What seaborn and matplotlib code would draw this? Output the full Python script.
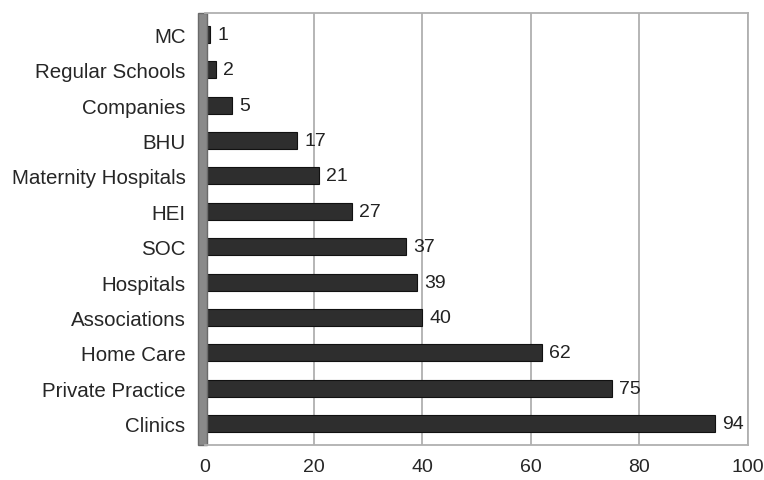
import matplotlib.pyplot as plt
import matplotlib.patches as mpatches
import seaborn as sns
import pandas as pd

categories = ["MC", "Regular Schools", "Companies", "BHU", "Maternity Hospitals", "HEI",
              "SOC", "Hospitals", "Associations", "Home Care", "Private Practice", "Clinics"]
values = [1, 2, 5, 17, 21, 27, 37, 39, 40, 62, 75, 94]
xticks = [0, 20, 40, 60, 80, 100]

df = pd.DataFrame({"place": categories, "count": values})

sns.set_style("white")
plt.rcParams["font.family"] = ["Liberation Sans", "DejaVu Sans"]

fig = plt.figure(figsize=(7.64, 4.81), dpi=100)
ax = fig.add_axes([205 / 764, 1 - 446 / 481, (748 - 205) / 764, (446 - 14) / 481])

sns.barplot(data=df, x="count", y="place", ax=ax, color="#2e2e2e", width=0.48,
            edgecolor="#111111", linewidth=0.8, saturation=1, orient="h")

ax.set_xlim(0, 100)
ax.set_ylim(11.6, -0.6)
ax.set_xticks(xticks)
ax.set_xticklabels([str(t) for t in xticks], fontsize=14)
ax.tick_params(axis="y", labelsize=14.8, length=0, pad=14)
ax.tick_params(axis="x", length=0, pad=9)
ax.set_xlabel("")
ax.set_ylabel("")

# gridlines like the back wall
for t in xticks[1:]:
    ax.axvline(t, color="#b0b0b0", linewidth=1.3, zorder=0)
for side in ["top", "right", "bottom"]:
    ax.spines[side].set_color("#b0b0b0")
    ax.spines[side].set_linewidth(1.3)
ax.spines["left"].set_visible(False)

# grey side wall on the left
wall = mpatches.Rectangle((-0.012, 0), 0.016, 1.0, transform=ax.transAxes,
                          facecolor="#8a8a8a", edgecolor="#6a6a6a", clip_on=False, zorder=1)
ax.add_patch(wall)

# value labels
for i, v in enumerate(values):
    ax.text(v + 1.3, i, str(v), va="center", ha="left", fontsize=14, color="#222222")

plt.savefig("out.png", dpi=100)
